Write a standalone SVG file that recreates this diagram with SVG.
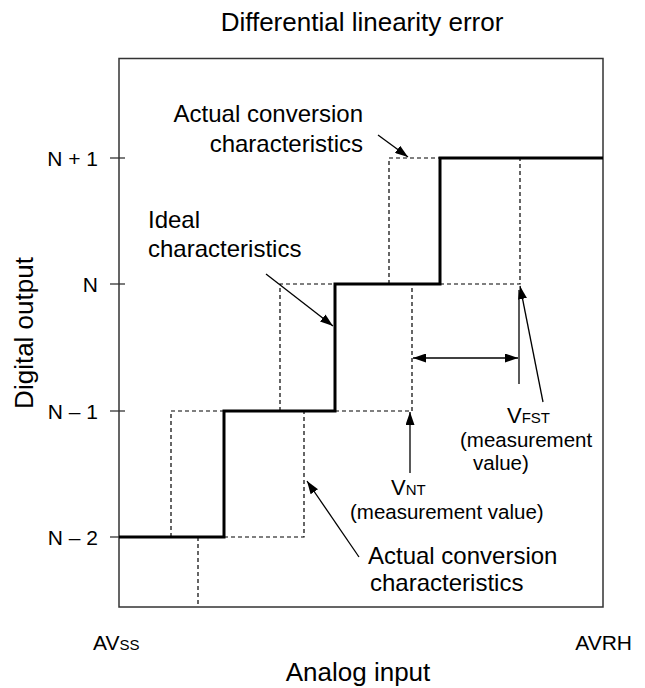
<svg xmlns="http://www.w3.org/2000/svg" width="645" height="688" viewBox="0 0 645 688">
<style>
text{font-family:"Liberation Sans",Arial,sans-serif;fill:#000}
.frame{fill:none;stroke:#333;stroke-width:1.5}
.step{fill:none;stroke:#000;stroke-width:3;stroke-linejoin:miter}
.dash{fill:none;stroke:#000;stroke-width:1.2;stroke-dasharray:4 3}
.thin{fill:none;stroke:#000;stroke-width:1.3}
.tick{stroke:#333;stroke-width:1.3}
.lbl{font-size:24px}
.lvl{font-size:21px;text-anchor:end}
</style>
<defs>
<marker id="ah" markerWidth="13" markerHeight="9" refX="13" refY="4.5" orient="auto-start-reverse" markerUnits="userSpaceOnUse">
<path d="M0,0 L13,4.5 L0,9 z" fill="#000"/>
</marker>
</defs>
<g id="title"><text x="362" y="31" font-size="26" text-anchor="middle">Differential linearity error</text></g>
<g id="axes">
<rect class="frame" x="119" y="58.5" width="484" height="548.5"/>
<line class="tick" x1="110" y1="158" x2="125" y2="158"/>
<line class="tick" x1="110" y1="284" x2="125" y2="284"/>
<line class="tick" x1="110" y1="411" x2="125" y2="411"/>
<line class="tick" x1="110" y1="537" x2="125" y2="537"/>
<text class="lvl" x="98" y="166">N + 1</text>
<text class="lvl" x="98" y="292">N</text>
<text class="lvl" x="98" y="419">N – 1</text>
<text class="lvl" x="98" y="545">N – 2</text>
<text x="33" y="333" font-size="26" text-anchor="middle" transform="rotate(-90 33 333)">Digital output</text>
<text x="93" y="650" font-size="21">AV<tspan font-size="15">SS</tspan></text>
<text x="632" y="650" font-size="21" text-anchor="end">AVRH</text>
<text x="358" y="681" font-size="26" text-anchor="middle">Analog input</text>
</g>
<g id="ideal-curve"><path class="step" d="M119,537 H224 V411 H335 V284 H440 V158 H603"/></g>
<g id="actual-curve">
<path class="dash" d="M171,537 V411 H224"/>
<path class="dash" d="M198,537 V607"/>
<path class="dash" d="M224,537 H304 V411"/>
<path class="dash" d="M280,411 V284 H335"/>
<path class="dash" d="M335,411 H412 V284"/>
<path class="dash" d="M389,284 V158 H440"/>
<path class="dash" d="M440,284 H520 V158"/>
</g>
<g id="connectors">
<line class="thin" x1="378" y1="135" x2="408" y2="157" marker-end="url(#ah)"/>
<line class="thin" x1="266" y1="274" x2="333" y2="326" marker-end="url(#ah)"/>
<line class="thin" x1="359" y1="557" x2="307" y2="481" marker-end="url(#ah)"/>
<line class="thin" x1="410" y1="473" x2="410" y2="412" marker-end="url(#ah)"/>
<line class="thin" x1="519" y1="290" x2="519" y2="384"/>
<line class="thin" x1="543" y1="402" x2="520" y2="286" marker-end="url(#ah)"/>
<line class="thin" x1="413" y1="358" x2="518" y2="358" marker-start="url(#ah)" marker-end="url(#ah)"/>
</g>
<g id="label-actual-top">
<text class="lbl" x="363" y="122" text-anchor="end">Actual conversion</text>
<text class="lbl" x="363" y="152" text-anchor="end">characteristics</text>
</g>
<g id="label-ideal">
<text class="lbl" x="148" y="228">Ideal</text>
<text class="lbl" x="148" y="257">characteristics</text>
</g>
<g id="label-vfst">
<text x="507" y="423" font-size="22">V<tspan font-size="15">FST</tspan></text>
<text x="460" y="447" font-size="20.5">(measurement</text>
<text x="473" y="470" font-size="20.5">value)</text>
</g>
<g id="label-vnt">
<text x="391" y="495" font-size="22">V<tspan font-size="15">NT</tspan></text>
<text x="350" y="519" font-size="20.5">(measurement value)</text>
</g>
<g id="label-actual-bottom">
<text class="lbl" x="368" y="564">Actual conversion</text>
<text class="lbl" x="370" y="591">characteristics</text>
</g>
</svg>
